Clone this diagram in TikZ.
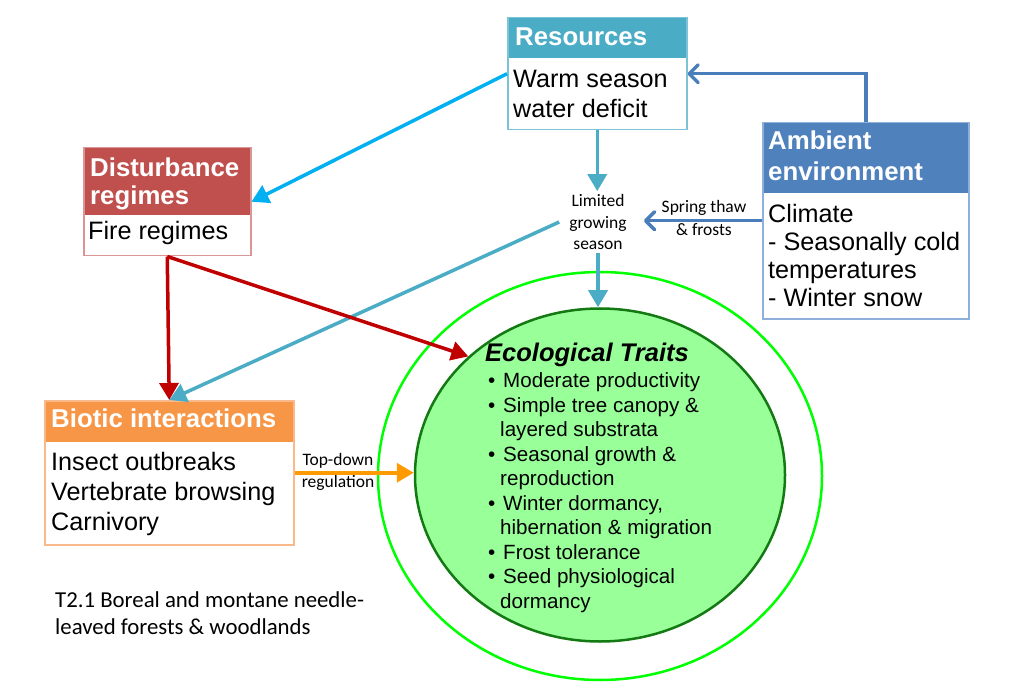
\documentclass[tikz,border=0pt]{standalone}
\usepackage{fontspec}
\setmainfont{Liberation Sans}
\newfontfamily\calfont{Carlito}
\usetikzlibrary{arrows.meta,shapes.geometric}
\definecolor{resH}{HTML}{4BACC6}
\definecolor{resB}{HTML}{7CC3D8}
\definecolor{disH}{HTML}{C0504D}
\definecolor{disB}{HTML}{D99694}
\definecolor{ambH}{HTML}{4F81BD}
\definecolor{ambB}{HTML}{8EB0DA}
\definecolor{bioH}{HTML}{F79646}
\definecolor{bioB}{HTML}{F9B98A}
\definecolor{skyA}{HTML}{00B0F0}
\definecolor{blueA}{HTML}{4A7EBB}
\definecolor{tealA}{HTML}{4BACC6}
\definecolor{redA}{HTML}{C00000}
\definecolor{orgA}{HTML}{FF9A00}
\definecolor{ringG}{HTML}{00FF00}
\definecolor{ecoF}{HTML}{99FF99}
\definecolor{ecoB}{HTML}{137A13}
\begin{document}
\begin{tikzpicture}[x=1pt,y=-1pt,
  hdrfill/.style={rectangle, anchor=north west, inner sep=0pt, fill=#1},
  frame/.style={rectangle, anchor=north west, inner sep=0pt, draw=#1, line width=1.5pt},
  htext/.style={anchor=base west, inner sep=0pt, text=white, font=\fontsize{25.8}{30}\selectfont\bfseries},
  btext/.style={anchor=base west, inner sep=0pt, font=\fontsize{25.2}{30}\selectfont},
  etitle/.style={anchor=base west, inner sep=0pt, font=\fontsize{25.5}{30}\selectfont\bfseries\itshape},
  etext/.style={anchor=base west, inner sep=0pt, font=\fontsize{20.6}{24.5}\selectfont},
  small/.style={anchor=base, inner sep=0pt, font=\calfont\fontsize{17.5}{21.5}\selectfont},
  note/.style={anchor=base west, inner sep=0pt, font=\calfont\fontsize{22.8}{27}\selectfont},
  conn/.style={line width=3.5pt},
  tri/.style={conn, -{Triangle[length=17pt,width=19pt]}},
  barb/.style={conn, -{Straight Barb[length=9pt,width=18pt,round]}}
]
\useasboundingbox (0,0) rectangle (1011,700);

% rings
\node[ellipse, draw=ringG, line width=2.5pt, minimum width=444pt, minimum height=408pt, inner sep=0pt] (outer) at (600,476) {};
\node[ellipse, draw=ecoB, fill=ecoF, line width=2.5pt, minimum width=370pt, minimum height=333pt, inner sep=0pt] (eco) at (600,475) {};

% Resources
\node[hdrfill=resH, minimum width=179pt, minimum height=41pt] (resh) at (507,17) {};
\node[frame=resB, minimum width=179pt, minimum height=112pt] (res) at (507,17) {};
\node[htext] (resT) at (515,46) {Resources};
\node[btext] (resB1) at (513,88) {Warm season};
\node[btext] (resB2) at (513,118) {water deficit};

% Disturbance
\node[hdrfill=disH, minimum width=167pt, minimum height=68pt] (dish) at (83,147) {};
\node[frame=disB, minimum width=167pt, minimum height=108pt] (dist) at (83,147) {};
\node[htext] (disT1) at (90,177) {Disturbance};
\node[htext] (disT2) at (90,205) {regimes};
\node[btext] (disB1) at (88,240) {Fire regimes};

% Ambient
\node[hdrfill=ambH, minimum width=206pt, minimum height=71pt] (ambh) at (762,122) {};
\node[frame=ambB, minimum width=206pt, minimum height=196pt] (amb) at (762,122) {};
\node[htext] (ambT1) at (768,150) {Ambient};
\node[htext] (ambT2) at (768,181) {environment};
\node[btext] (ambB1) at (768,223) {Climate};
\node[btext] (ambB2) at (768,251) {- Seasonally cold};
\node[btext] (ambB3) at (768,279) {temperatures};
\node[btext] (ambB4) at (768,307) {- Winter snow};

% Biotic
\node[hdrfill=bioH, minimum width=249pt, minimum height=42pt] (bioh) at (44,400) {};
\node[frame=bioB, minimum width=249pt, minimum height=144pt] (bio) at (44,400) {};
\node[htext] (bioT) at (51,427) {Biotic interactions};
\node[btext] (bioB1) at (51,470) {Insect outbreaks};
\node[btext] (bioB2) at (51,500) {Vertebrate browsing};
\node[btext] (bioB3) at (51,530) {Carnivory};

% Limited growing season
\node[inner xsep=10pt, inner ysep=3pt, align=center, font=\calfont\fontsize{17.5}{21.5}\selectfont] (lim) at (598,222) {Limited\\growing\\season};

% small labels
\node[small] (sp1) at (704,213) {Spring thaw};
\node[small] (sp2) at (704,236) {\& frosts};
\node[small] (td1) at (338,465) {Top-down};
\node[small] (td2) at (338,487) {regulation};

% Ecological traits
\node[etitle] (ecoT) at (485,361) {Ecological Traits};
\node[etext] (b1) at (488,387) {•};
\node[etext] (e1) at (503,387) {Moderate productivity};
\node[etext] (b2) at (488,412) {•};
\node[etext] (e2) at (503,412) {Simple tree canopy \&};
\node[etext] (e3) at (500,436) {layered substrata};
\node[etext] (b4) at (488,461) {•};
\node[etext] (e4) at (503,461) {Seasonal growth \&};
\node[etext] (e5) at (500,485) {reproduction};
\node[etext] (b6) at (488,510) {•};
\node[etext] (e6) at (503,510) {Winter dormancy,};
\node[etext] (e7) at (500,534) {hibernation \& migration};
\node[etext] (b8) at (488,559) {•};
\node[etext] (e8) at (503,559) {Frost tolerance};
\node[etext] (b9) at (488,583) {•};
\node[etext] (e9) at (503,583) {Seed physiological};
\node[etext] (e10) at (500,608) {dormancy};

% caption
\node[note] (cap1) at (55,607) {T2.1 Boreal and montane needle-};
\node[note] (cap2) at (55,634) {leaved forests \& woodlands};

% connectors
\draw[tri, skyA] (res.west) -- (dist.east);
\draw[barb, blueA] (amb.north) |- (res.east);
\draw[tri, tealA] (res.south) -- (res.south |- lim.north);
\draw[tri, tealA] (lim.south) -- (lim.south |- eco.north);
\draw[barb, blueA, shorten >=7pt] (amb.west) -- (amb.west -| lim.east);
\draw[tri, tealA] (lim.west) -- (bio.north);
\draw[tri, redA] (dist.south) -- (bio.north);
\draw[tri, redA] (dist.south) -- (eco.138);
\draw[tri, orgA] (bio.east) -- (eco.west |- bio.east);
\end{tikzpicture}
\end{document}
